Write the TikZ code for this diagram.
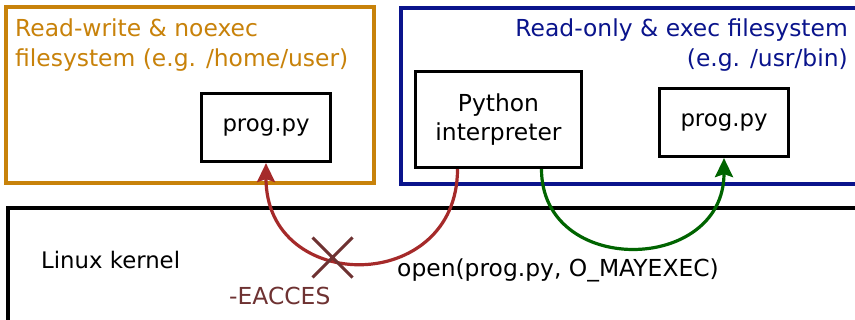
\documentclass[tikz,border=0pt]{standalone}
\usepackage{fontspec}
\setmainfont{DejaVu Sans}
\usetikzlibrary{arrows.meta}
\definecolor{fsorange}{RGB}{200,130,10}
\definecolor{fsblue}{RGB}{10,20,140}
\definecolor{arcred}{RGB}{165,42,42}
\definecolor{arcgreen}{RGB}{0,100,0}
\definecolor{errbrown}{RGB}{110,50,50}
\begin{document}
\begin{tikzpicture}[x=1pt,y=-1pt,
  every node/.style={font=\fontsize{23.4}{29}\selectfont},
  smallfont/.style={font=\fontsize{22.8}{29}\selectfont},
  filebox/.style={draw=black,line width=3.2pt,fill=white,align=center,inner sep=0pt},
  fsframe/.style={line width=3.2pt},
  lbl/.style={inner sep=0pt},
  callarc/.style={line width=3.2pt,-{Stealth[length=19pt,width=18pt,inset=3pt]}}
]
\useasboundingbox (0,0) rectangle (855,320);
\clip (0,0) rectangle (855,320);
\fill[white] (0,0) rectangle (855,320);
% frames
\draw[fsframe,draw=fsorange] (6,7) rectangle (374,183);
\draw[fsframe,draw=fsblue] (401,8) rectangle (880,184);
\draw[fsframe,draw=black] (8,208) rectangle (880,360);
% frame labels
\node[lbl,text=fsorange,anchor=base west] (rw1) at (15,37) {Read-write \& noexec};
\node[lbl,text=fsorange,anchor=base west] (rw2) at (15,67) {filesystem (e.g. /home/user)};
\node[lbl,text=fsblue,anchor=base east] (ro1) at (848,37) {Read-only \& exec filesystem};
\node[lbl,text=fsblue,anchor=base east] (ro2) at (848,67) {(e.g. /usr/bin)};
\node[lbl,smallfont,anchor=base west] (kern) at (41,269) {Linux kernel};
% boxes
\node[filebox,smallfont,minimum width=129pt,minimum height=68pt] (lprog) at (266,127.5) {prog.py};
\node[filebox,minimum width=166pt,minimum height=96pt] (py) at (498.5,119.5) {Python\\interpreter};
\node[filebox,smallfont,minimum width=129pt,minimum height=68pt] (rprog) at (724,122.5) {prog.py};
% arcs
\coordinate (redstart) at ([xshift=-41pt]py.south);
\coordinate (greenstart) at ([xshift=43pt]py.south);
\draw[callarc,draw=arcred] (redstart) .. controls +(0,126) and ([yshift=-132pt]lprog.south) .. (lprog.south);
\draw[callarc,draw=arcgreen] (greenstart) .. controls +(0,108) and ([yshift=-116pt]rprog.south) .. (rprog.south);
% cross
\coordinate (cross) at (332.5,257.5);
\draw[errbrown,line width=3pt] ([shift={(-20,-20)}]cross) -- ([shift={(20,20)}]cross)
  ([shift={(20,-20)}]cross) -- ([shift={(-20,20)}]cross);
\node[lbl,text=errbrown,anchor=base west] (err) at (229,305) {-EACCES};
\node[lbl,anchor=base west] (open) at (397,277) {open(prog.py, O\_MAYEXEC)};
\end{tikzpicture}
\end{document}
